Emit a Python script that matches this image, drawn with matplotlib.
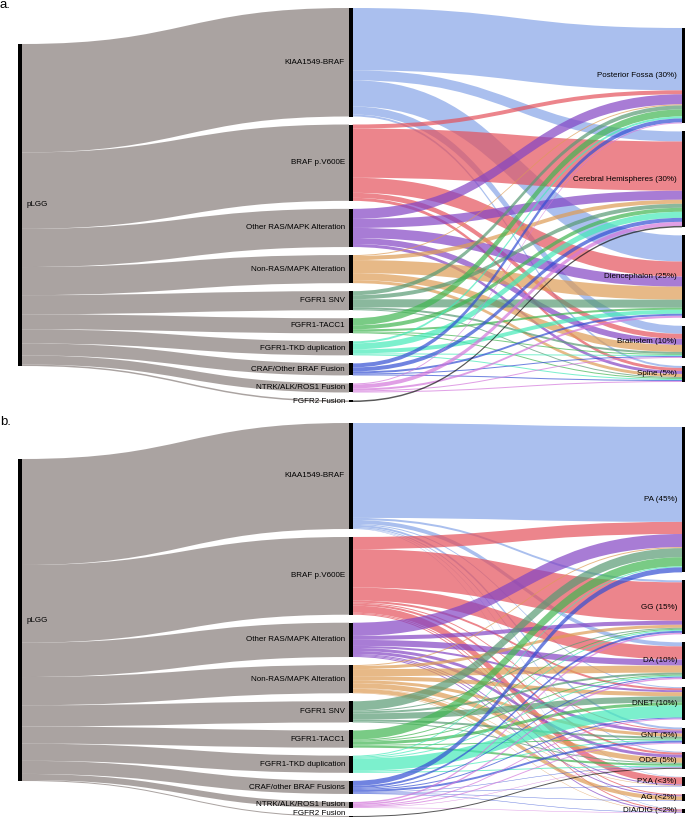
import numpy as np
import matplotlib
matplotlib.use("Agg")
import matplotlib.pyplot as plt
from matplotlib.path import Path
from matplotlib.patches import PathPatch, Rectangle

plt.rcParams['font.family'] = ['Liberation Sans', 'DejaVu Sans']

# ---------------- data ----------------
root_label = "pLGG"

alterations_a = ["KIAA1549-BRAF", "BRAF p.V600E", "Other RAS/MAPK Alteration",
                 "Non-RAS/MAPK Alteration", "FGFR1 SNV", "FGFR1-TACC1",
                 "FGFR1-TKD duplication", "CRAF/Other BRAF Fusion",
                 "NTRK/ALK/ROS1 Fusion", "FGFR2 Fusion"]
alterations_b = ["KIAA1549-BRAF", "BRAF p.V600E", "Other RAS/MAPK Alteration",
                 "Non-RAS/MAPK Alteration", "FGFR1 SNV", "FGFR1-TACC1",
                 "FGFR1-TKD duplication", "CRAF/other BRAF Fusions",
                 "NTRK/ALK/ROS1 Fusion", "FGFR2 Fusion"]

locations = ["Posterior Fossa (30%)", "Cerebral Hemispheres (30%)",
             "Diencephalon (25%)", "Brainstem (10%)", "Spine (5%)"]
histologies = ["PA (45%)", "GG (15%)", "DA (10%)", "DNET (10%)", "GNT (5%)",
               "ODG (5%)", "PXA (<3%)", "AG (<2%)", "DIA/DIG (<2%)"]

# rows: alterations, columns: locations (panel a)
flows_a = [
    [62, 10, 26, 8, 2],
    [4, 49, 15, 5, 3],
    [10, 9, 10, 6, 3],
    [1, 4, 13, 7, 3],
    [4, 4, 8, 2, 1],
    [7, 4, 2, 1, 1],
    [2, 6, 4, 1, 1],
    [4, 4, 2, 1, 1],
    [1, 4, 2, 1, 1],
    [0, 1.5, 0, 0, 0],
]
# rows: alterations, columns: histologies (panel b)
flows_b = [
    [94, 2, 4, 1, 2, 1, 0.5, 0, 0.5],
    [12, 38, 13, 2, 1, 2, 7, 1, 1],
    [13, 4, 6, 2, 3, 3, 1, 1, 1],
    [1, 3, 7, 4, 3, 5, 0.5, 4, 0.5],
    [9, 1, 2, 6, 2, 1, 0, 0, 0],
    [9, 1, 1, 3, 1, 2, 0, 0, 0],
    [1, 1, 1, 12, 1, 1, 0, 0, 0],
    [5, 2, 1, 1, 2, 0.5, 0.5, 0.5, 0.5],
    [0, 1.5, 1.5, 1, 1, 0.5, 0, 0, 0.5],
    [0, 0, 0, 0, 0, 1, 0, 0, 0],
]

# apparent colours (on white) of links per alteration
alt_colors = ["#aac0ee", "#ec868c", "#a87cd6", "#e8ba88", "#8ab89e",
              "#7acc86", "#7cf0ce", "#7084e0", "#e0a0e6", "#5a5a5a"]
root_color = "#aba4a2"
ALPHA = 0.7

# ---------------- layout ----------------
W, H = 685, 818
fig = plt.figure(figsize=(W / 100, H / 100), dpi=100)
ax = fig.add_axes([0, 0, 1, 1])
ax.set_xlim(0, W)
ax.set_ylim(H, 0)
ax.axis("off")

col_x = [18.0, 349.0, 682.0]
node_w = 3.6
gap = 8.0
root_px = 322.0
fs = 5.8


def base_rgba(hexcol):
    c = np.array(matplotlib.colors.to_rgb(hexcol))
    b = (c - (1 - ALPHA)) / ALPHA
    b = np.clip(b, 0, 1)
    return (*b, ALPHA)


def stack(values, center, scale):
    hs = [v * scale for v in values]
    total = sum(hs) + gap * (len(hs) - 1)
    y = center - total / 2
    out = []
    for h in hs:
        out.append((y, y + h))
        y += h + gap
    return out


def link(x0, x1, y0t, y0b, y1t, y1b, color):
    xm = (x0 + x1) / 2
    verts = [(x0, y0t), (xm, y0t), (xm, y1t), (x1, y1t),
             (x1, y1b), (xm, y1b), (xm, y0b), (x0, y0b), (x0, y0t)]
    codes = [Path.MOVETO, Path.CURVE4, Path.CURVE4, Path.CURVE4,
             Path.LINETO, Path.CURVE4, Path.CURVE4, Path.CURVE4, Path.CLOSEPOLY]
    ax.add_patch(PathPatch(Path(verts, codes), facecolor=color,
                           edgecolor="none", lw=0, zorder=1))


def panel(center, mids, rights, flows, letter, letter_y):
    flows = np.array(flows, dtype=float)
    mid_vals = flows.sum(axis=1)
    right_vals = flows.sum(axis=0)
    total = mid_vals.sum()
    scale = root_px / total

    root = stack([total], center, scale)[0]
    mid_pos = stack(mid_vals, center, scale)
    right_pos = stack(right_vals, center, scale)

    # root -> alteration links
    y = root[0]
    for i, v in enumerate(mid_vals):
        h = v * scale
        link(col_x[0] + node_w, col_x[1], y, y + h, mid_pos[i][0],
             mid_pos[i][0] + h, base_rgba(root_color))
        y += h

    # link offsets: at source ordered by target, at target ordered by source
    src_start = {}
    for i in range(flows.shape[0]):
        s = mid_pos[i][0]
        for j in range(flows.shape[1]):
            src_start[(i, j)] = s
            s += flows[i, j] * scale
    tgt_start = {}
    for j in range(flows.shape[1]):
        t = right_pos[j][0]
        for i in range(flows.shape[0]):
            tgt_start[(i, j)] = t
            t += flows[i, j] * scale
    for i in range(flows.shape[0]):
        for j in range(flows.shape[1]):
            v = flows[i, j]
            if v <= 0:
                continue
            h = v * scale
            s0 = src_start[(i, j)]
            t0 = tgt_start[(i, j)]
            link(col_x[1] + node_w, col_x[2], s0, s0 + h, t0, t0 + h,
                 base_rgba(alt_colors[i]))

    # nodes
    ax.add_patch(Rectangle((col_x[0], root[0]), node_w, root[1] - root[0],
                           color="black", zorder=3, lw=0))
    for (y0, y1) in mid_pos:
        ax.add_patch(Rectangle((col_x[1], y0), node_w, max(y1 - y0, 0.8),
                               color="black", zorder=3, lw=0))
    for (y0, y1) in right_pos:
        ax.add_patch(Rectangle((col_x[2], y0), node_w, y1 - y0,
                               color="black", zorder=3, lw=0))

    # labels
    ax.text(col_x[0] + node_w + 4.5, (root[0] + root[1]) / 2, root_label,
            ha="left", va="center", fontsize=fs, zorder=4)
    for lab, (y0, y1) in zip(mids, mid_pos):
        yc = min((y0 + y1) / 2, H - 4.5)
        ax.text(col_x[1] - 4, yc, lab, ha="right", va="center",
                fontsize=fs, zorder=4)
    for lab, (y0, y1) in zip(rights, right_pos):
        ax.text(col_x[2] - 5, (y0 + y1) / 2, lab, ha="right", va="center",
                fontsize=fs, zorder=4)
    ax.text(0, letter_y, letter, ha="left", va="baseline", fontsize=9.5, zorder=4)


panel(205.0, alterations_a, locations, flows_a, "a.", 8.5)
panel(620.0, alterations_b, histologies, flows_b, "b.", 425.0)

fig.savefig("out.png", dpi=100)
